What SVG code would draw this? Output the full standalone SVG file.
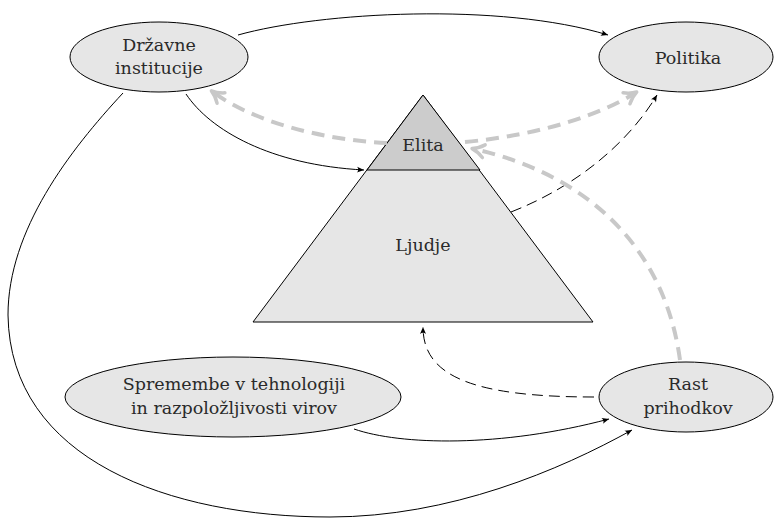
<svg xmlns="http://www.w3.org/2000/svg" width="774" height="518" viewBox="0 0 774 518">
<defs>
<style>
.node{fill:#e6e6e6;stroke:#000;stroke-width:1}
.lbl{font-family:"DejaVu Serif","Liberation Serif",serif;font-size:17.5px;fill:#2a2a2a;text-anchor:middle}
.solid{fill:none;stroke:#000;stroke-width:1}
.dash{fill:none;stroke:#000;stroke-width:1;stroke-dasharray:11 6}
.gray{fill:none;stroke:#c8c8c8;stroke-width:4;stroke-dasharray:13 8}
</style>
<marker id="ab" viewBox="-8 -4 10 8" refX="0" refY="0" markerWidth="10" markerHeight="8" markerUnits="userSpaceOnUse" orient="auto">
<path d="M0,0 L-7,-3 Q-4.5,0 -7,3 Z" fill="#000"/>
</marker>
<marker id="ag" viewBox="-14 -9 18 18" refX="0" refY="0" markerWidth="18" markerHeight="18" markerUnits="userSpaceOnUse" orient="auto">
<path d="M-10,-6.5 Q-4,-1.5 2,0 Q-4,1.5 -10,6.5" fill="none" stroke="#c8c8c8" stroke-width="3.5" stroke-linecap="round" stroke-linejoin="round"/>
</marker>
</defs>

<g id="pyramid">
<polygon points="423,95 593,322 253,322" fill="#e6e6e6" stroke="#000" stroke-width="1"/>
<polygon points="423,95 480,170 367,170" fill="#cccccc" stroke="#000" stroke-width="1"/>
<text class="lbl" x="423" y="151">Elita</text>
<text class="lbl" x="423" y="251">Ljudje</text>
</g>

<g id="connectors">
<path class="solid" d="M238,35 C320,12 500,2 608,35" marker-end="url(#ab)"/>
<path class="solid" d="M186,94 C210,130 270,165 364,170" marker-end="url(#ab)"/>
<path class="solid" d="M123,93 C70,150 8,230 8,315 C10,460 170,517 330,517 C450,517 560,470 632,430" marker-end="url(#ab)"/>
<path class="solid" d="M354,429 C400,445 500,448 609,419" marker-end="url(#ab)"/>
<path class="dash" d="M594,397 C470,397 423,375 423,327" marker-end="url(#ab)"/>
<path class="dash" d="M511,212 C580,185 630,140 657,95" marker-end="url(#ab)"/>
<path class="gray" d="M387,143 C320,140 250,120 213,92" marker-end="url(#ag)"/>
<path class="gray" d="M465,142 C540,135 600,115 635,93" marker-end="url(#ag)"/>
<path class="gray" d="M680,360 C665,250 590,175 474,149" marker-end="url(#ag)"/>
</g>

<g id="drzavne">
<ellipse class="node" cx="159" cy="57" rx="89" ry="35"/>
<text class="lbl" x="159" y="51">Državne</text>
<text class="lbl" x="159" y="74">institucije</text>
</g>

<g id="politika">
<ellipse class="node" cx="686" cy="57" rx="87" ry="35"/>
<text class="lbl" x="688" y="64">Politika</text>
</g>

<g id="rast">
<ellipse class="node" cx="686" cy="397" rx="87" ry="35"/>
<text class="lbl" x="688" y="390">Rast</text>
<text class="lbl" x="688" y="414">prihodkov</text>
</g>

<g id="spremembe">
<ellipse class="node" cx="233" cy="397" rx="168" ry="40"/>
<text class="lbl" x="234" y="390">Spremembe v tehnologiji</text>
<text class="lbl" x="234" y="414">in razpoložljivosti virov</text>
</g>
</svg>
